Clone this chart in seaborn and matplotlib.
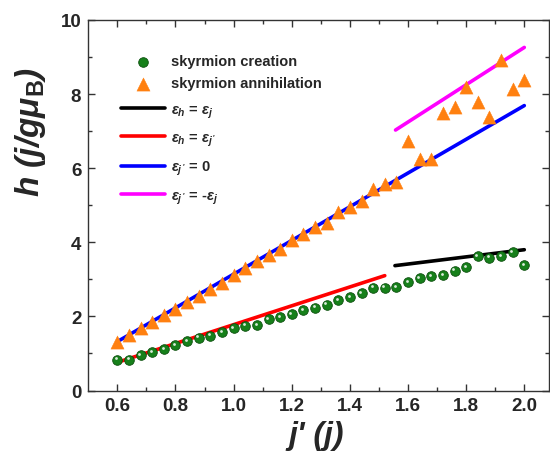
import matplotlib
matplotlib.use("Agg")
import matplotlib.pyplot as plt
import seaborn as sns
import pandas as pd
from matplotlib.transforms import offset_copy

# ---------------- data ----------------
j_prime = [0.60, 0.64, 0.68, 0.72, 0.76, 0.80, 0.84, 0.88, 0.92, 0.96,
           1.00, 1.04, 1.08, 1.12, 1.16, 1.20, 1.24, 1.28, 1.32, 1.36,
           1.40, 1.44, 1.48, 1.52, 1.56, 1.60, 1.64, 1.68, 1.72, 1.76,
           1.80, 1.84, 1.88, 1.92, 1.96, 2.00]
creation_h = [0.83, 0.83, 0.96, 1.03, 1.12, 1.23, 1.33, 1.42, 1.48, 1.57,
              1.68, 1.75, 1.77, 1.93, 1.98, 2.06, 2.17, 2.23, 2.32, 2.44,
              2.52, 2.63, 2.77, 2.77, 2.79, 2.92, 3.03, 3.08, 3.12, 3.23,
              3.33, 3.63, 3.58, 3.63, 3.74, 3.38]
annihilation_h = [1.30, 1.50, 1.68, 1.85, 2.04, 2.20, 2.40, 2.56, 2.75, 2.91,
                  3.11, 3.30, 3.49, 3.66, 3.82, 4.07, 4.22, 4.40, 4.52, 4.83,
                  4.94, 5.12, 5.44, 5.57, 5.64, 6.73, 6.25, 6.25, 7.49, 7.64,
                  8.18, 7.79, 7.37, 8.93, 8.14, 8.39]

black_x, black_h = [1.555, 2.00], [3.37, 3.80]
red_x, red_h = [0.60, 1.52], [0.76, 3.10]
blue_x, blue_h = [0.60, 2.00], [1.32, 7.69]
mag_x, mag_h = [1.557, 2.00], [7.03, 9.26]

x_ticks = [0.6, 0.8, 1.0, 1.2, 1.4, 1.6, 1.8, 2.0]
y_ticks = [0, 2, 4, 6, 8, 10]

# ---------------- style ----------------
sns.set_style("ticks")
plt.rcParams["font.family"] = ["Liberation Sans", "DejaVu Sans"]
plt.rcParams["font.weight"] = "bold"
plt.rcParams["mathtext.fontset"] = "custom"
plt.rcParams["mathtext.rm"] = "Liberation Sans:bold"
plt.rcParams["mathtext.it"] = "Liberation Sans:italic:bold"
plt.rcParams["mathtext.bf"] = "Liberation Sans:bold"

fig = plt.figure(figsize=(5.5, 4.56), dpi=100)
ax = fig.add_axes([88.3 / 550, 64.5 / 456, (549 - 88.3) / 550, (391.5 - 21) / 456])

df_c = pd.DataFrame({"x": j_prime, "h": creation_h})
df_a = pd.DataFrame({"x": j_prime, "h": annihilation_h})

lw = 2.6
sns.lineplot(x=black_x, y=black_h, color="black", lw=lw, ax=ax, zorder=2,
             label=r"$\varepsilon_h$ = $\varepsilon_j$")
sns.lineplot(x=red_x, y=red_h, color="#ff0000", lw=lw, ax=ax, zorder=2,
             label=r"$\varepsilon_h$ = $\varepsilon_{j\,'}$")
sns.lineplot(x=blue_x, y=blue_h, color="#0000ff", lw=lw, ax=ax, zorder=2,
             label=r"$\varepsilon_{j\,'}$ = 0")
sns.lineplot(x=mag_x, y=mag_h, color="#ff00ff", lw=lw, ax=ax, zorder=2,
             label=r"$\varepsilon_{j\,'}$ = -$\varepsilon_j$")

sns.scatterplot(data=df_c, x="x", y="h", ax=ax, marker="o", s=48,
                color="#16801a", edgecolor="#0c4f0e", linewidth=0.6,
                zorder=4, label="skyrmion creation")
# highlight on the spheres
ax.scatter(df_c["x"], df_c["h"], s=4, color="white", alpha=0.85, lw=0,
           zorder=5,
           transform=offset_copy(ax.transData, fig=fig, x=-1.3, y=1.4, units="dots"))
sns.scatterplot(data=df_a, x="x", y="h", ax=ax, marker="^", s=90,
                color="#ff8010", edgecolor="#ff8010", linewidth=0.3,
                zorder=4, label="skyrmion annihilation")

ax.set_xlim(0.5, 2.085)
ax.set_ylim(0, 10)
ax.set_xticks(x_ticks)
ax.set_yticks(y_ticks)
ax.set_xticklabels([f"{v:.1f}" for v in x_ticks])
ax.set_yticklabels([str(v) for v in y_ticks])
ax.set_xticks([0.7, 0.9, 1.1, 1.3, 1.5, 1.7, 1.9], minor=True)
ax.set_yticks([1, 3, 5, 7, 9], minor=True)
ax.tick_params(which="both", direction="in", top=True, right=True,
               color="#333333", width=1)
ax.tick_params(which="major", length=5, labelsize=13.5, pad=5)
ax.tick_params(which="minor", length=3)
for lab in ax.get_xticklabels() + ax.get_yticklabels():
    lab.set_fontweight("bold")
for sp in ax.spines.values():
    sp.set_visible(True)
    sp.set_color("#333333")
    sp.set_linewidth(1.0)

ax.set_xlabel("j' (j)", fontsize=23, fontweight="bold", style="italic")
ax.set_ylabel(r"h (j/gμ$_{\rm B}$)", fontsize=24, fontweight="bold", style="italic")
ax.xaxis.set_label_coords(0.494, -0.08)
ax.yaxis.set_label_coords(-0.088, 0.70)

handles, labels = ax.get_legend_handles_labels()
mk = [labels.index("skyrmion creation"), labels.index("skyrmion annihilation")]
ln = [i for i, l in enumerate(labels) if l.startswith("$")]
leg1 = ax.legend([handles[i] for i in mk], [labels[i] for i in mk],
                 loc="upper left", bbox_to_anchor=(0.072, 0.907), frameon=False,
                 fontsize=10.5, handlelength=3.0, handletextpad=0.4,
                 labelspacing=0.55, borderpad=0, borderaxespad=0)
for t in leg1.get_texts():
    t.set_fontweight("bold")
ax.add_artist(leg1)
leg2 = ax.legend([handles[i] for i in ln], [labels[i] for i in ln],
                 loc="upper left", bbox_to_anchor=(0.072, 0.778), frameon=False,
                 fontsize=10.5, handlelength=3.0, handletextpad=0.4,
                 labelspacing=0.75, borderpad=0, borderaxespad=0)
for t in leg2.get_texts():
    t.set_fontweight("bold")

fig.savefig("out.png", dpi=100)
